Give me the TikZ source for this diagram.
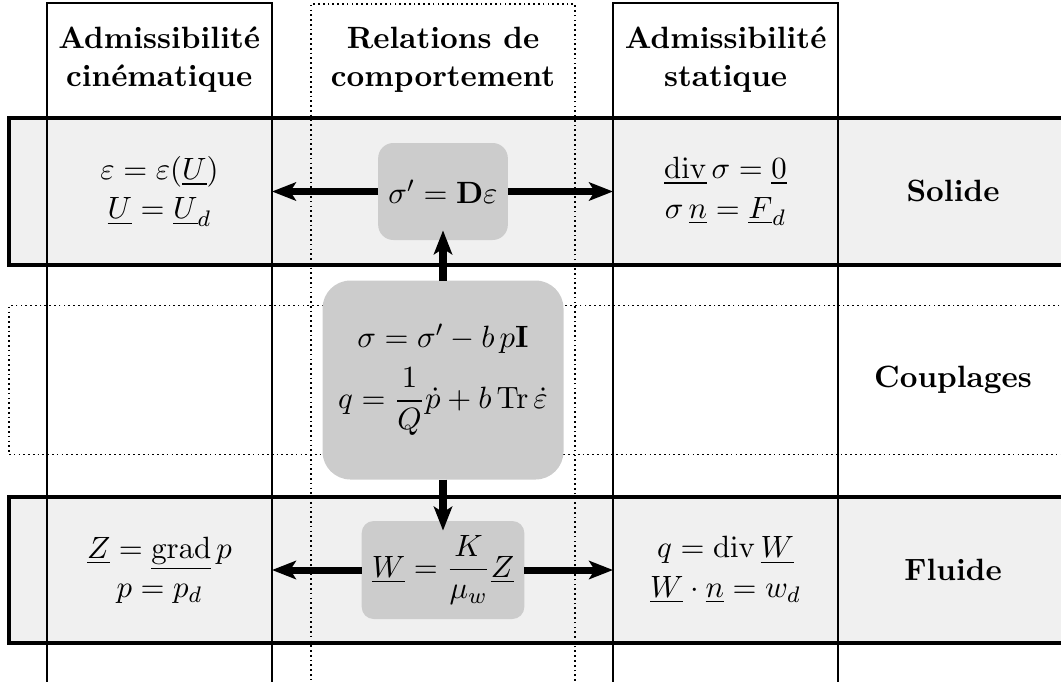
\documentclass[tikz,border=0pt,11pt]{standalone}
\usepackage{amsmath}
\usepackage{tikz}
\usetikzlibrary{arrows.meta, positioning, calc}

\begin{document}
\begin{tikzpicture}[>={Stealth[length=8.5pt, width=6.5pt, inset=2pt]},
    colbox/.style={draw, rectangle, line width=0.7pt, anchor=north west, outer sep=0pt, minimum height=10cm},
    dotbox/.style={colbox, line width=0.6pt, dash pattern=on 0.6pt off 1.1pt},
    band/.style={draw, rectangle, fill=gray!12, line width=1.4pt, anchor=north west, outer sep=0pt, minimum width=14cm},
    dotband/.style={band, fill=none, line width=0.6pt, dash pattern=on 0.6pt off 1.1pt},
    eqbox/.style={rectangle, fill=gray!40, outer sep=0pt, align=center, font=\fontsize{11}{14}\selectfont},
    eq/.style={align=center, font=\fontsize{11}{14}\selectfont},
    title/.style={align=center, font=\bfseries},
    fleche/.style={->, line width=2.5pt}]

    \useasboundingbox (0,0) rectangle (13.2625,-8.5125);
    \clip (0,0) rectangle (13.2625,-8.5125);

    \node[band, minimum height=1.8375cm] (bsol) at (0.1125,-1.475) {};
    \node[dotband, minimum height=1.86cm] (bcoup) at (0.1125,-3.82) {};
    \node[band, minimum height=1.825cm] (bflu) at (0.1125,-6.2125) {};

    \node[colbox, minimum width=2.8125cm] (cine) at (0.5875,-0.0375) {};
    \node[dotbox, minimum width=3.3cm] (comp) at (3.8875,-0.05) {};
    \node[colbox, minimum width=2.8125cm] (stat) at (7.6625,-0.0375) {};

    \node[title] (hcine) at (1.99,-0.75) {Admissibilité\\cinématique};
    \node[title] (hcomp) at (5.5375,-0.75) {Relations de\\comportement};
    \node[title] (hstat) at (9.07,-0.75) {Admissibilité\\statique};

    \node[title] (lsol) at (11.9125,-2.39) {Solide};
    \node[title] (lcoup) at (11.9125,-4.75) {Couplages};
    \node[title] (lflu) at (11.9125,-7.125) {Fluide};

    \node[eqbox, minimum width=1.575cm, minimum height=1.2125cm, rounded corners=0.19cm] (sigD) at (comp |- bsol) {$\sigma'=\mathbf{D}\varepsilon$};
    \node[eqbox, minimum width=3.0125cm, minimum height=2.4875cm, rounded corners=0.35cm] (coup) at (comp |- bcoup) {$\sigma=\sigma'-b\,p\mathbf{I}$\\[4pt]$q=\dfrac{1}{Q}\dot{p}+b\,\mathrm{Tr}\,\dot{\varepsilon}$};
    \node[eqbox, minimum width=1.9625cm, minimum height=1.225cm, rounded corners=0.15cm] (darcy) at (comp |- bflu) {$\underline{W}=\dfrac{K}{\mu_w}\underline{Z}$};

    \node[eq] (cinesol) at (cine |- bsol) {$\varepsilon=\varepsilon(\underline{U})$\\$\underline{U}=\underline{U}_d$};
    \node[eq] (statsol) at (stat |- bsol) {$\underline{\mathrm{div}}\,\sigma=\underline{0}$\\$\sigma\,\underline{n}=\underline{F}_d$};
    \node[eq] (cineflu) at (cine |- bflu) {$\underline{Z}=\underline{\mathrm{grad}}\,p$\\$p=p_d$};
    \node[eq] (statflu) at (stat |- bflu) {$q=\mathrm{div}\,\underline{W}$\\$\underline{W}\cdot\underline{n}=w_d$};

    \draw[fleche] (sigD) -- (sigD -| cine.east);
    \draw[fleche] (sigD) -- (sigD -| stat.west);
    \draw[fleche, shorten >=-0.12cm] (coup) -- (sigD);
    \draw[fleche, shorten >=-0.12cm] (coup) -- (darcy);
    \draw[fleche] (darcy) -- (darcy -| cine.east);
    \draw[fleche] (darcy) -- (darcy -| stat.west);
\end{tikzpicture}
\end{document}
